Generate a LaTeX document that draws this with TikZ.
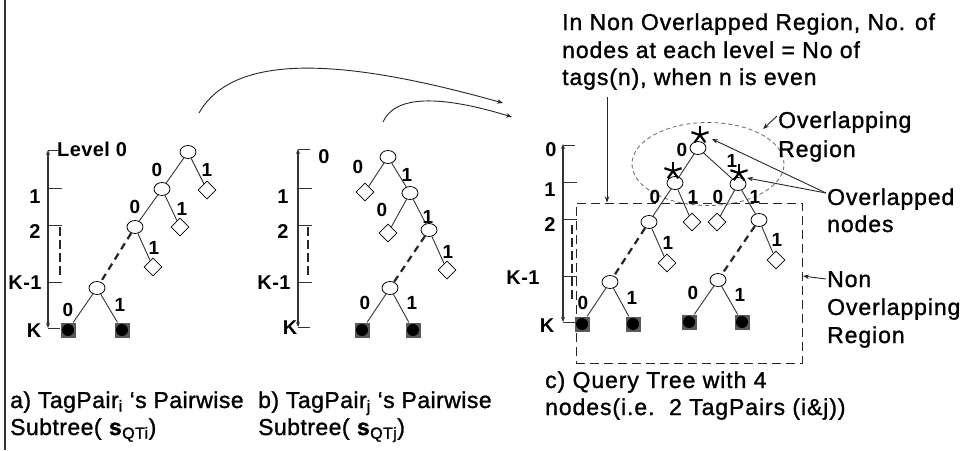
\documentclass[tikz,border=0pt]{standalone}
\usepackage{fontspec}
\setmainfont{Liberation Sans}
\newfontfamily\txtfont[LetterSpace=4,FakeBold=1.2]{Liberation Sans}
\newfontfamily\capfont[LetterSpace=2,FakeBold=1.2]{Liberation Sans}
\newfontfamily\lblfont[LetterSpace=2]{Liberation Sans}
\usetikzlibrary{shapes.geometric,arrows.meta}
\newcommand\myastk[1]{\foreach \ang in {90,162,234,306,18} \draw[line width=2.2pt,black] (#1) -- ++(\ang:9pt);}
\begin{document}
\begin{tikzpicture}[x=1pt,y=-1pt,
  inner/.style={ellipse, draw=black, fill=white, minimum width=16pt, minimum height=13pt, inner sep=0pt, line width=0.8pt},
  dia/.style={diamond, draw=black, fill=white, minimum width=18pt, minimum height=18pt, inner sep=0pt, line width=0.8pt},
  leaf/.style={rectangle, fill=black!65, minimum size=15pt, inner sep=0pt, path picture={\fill[black] (path picture bounding box.center) circle (6pt);}},
  edge/.style={draw=black!80, line width=0.9pt},
  dedge/.style={draw=black!85, line width=2.2pt, dash pattern=on 7pt off 5pt},
  axis/.style={draw=black!80, line width=1.6pt, {Stealth[length=5pt,width=4pt]}-{Stealth[length=5pt,width=4pt]}},
  tickl/.style={draw=black!80, line width=1pt},
  vdash/.style={draw=black!85, line width=2.2pt, dash pattern=on 9pt off 4pt},
  lbl/.style={font=\lblfont\bfseries\fontsize{19}{19}\selectfont, inner sep=0pt},
  axlbl/.style={font=\lblfont\bfseries\fontsize{20}{20}\selectfont, inner sep=0pt},
  txt/.style={font=\txtfont\fontsize{23}{23}\selectfont, inner sep=0pt, anchor=base west},
  captxt/.style={font=\capfont\fontsize{23}{23}\selectfont, inner sep=0pt, anchor=base west},
  arr/.style={draw=black!85, line width=0.9pt, -{Stealth[length=6pt,width=4.5pt]}}
]
\useasboundingbox (0,0) rectangle (969,450);
\fill[white] (0,0) rectangle (969,450);
% left frame line
\coordinate (fT) at (5,0);
\coordinate (fB) at (5,450);
\draw[black!80, line width=1.2pt] (fT) -- (fB);

% ================= Tree a =================
\coordinate (aT) at (48,150);
\coordinate (aB) at (48,328);
\draw[axis] (aT) -- (aB);
\draw[tickl] (48,150) -- ++(10,0);
\draw[tickl] (48,188) -- ++(14,0);
\draw[tickl] (48,225) -- ++(14,0);
\draw[tickl] (48,282) -- ++(14,0);
\draw[tickl] (48,328) -- ++(12,0);
\draw[vdash] (60,227) -- (60,277);
\node[axlbl, anchor=west] (aL0) at (57,149) {Level 0};
\node[axlbl] (aL1) at (35,197) {1};
\node[axlbl] (aL2) at (35,232) {2};
\node[axlbl] (aLk1) at (25,283) {K-1};
\node[axlbl] (aLk) at (34,331) {K};

\node[inner] (a0) at (188,152) {};
\node[inner] (a1) at (162,189) {};
\node[dia] (ad0) at (207,190) {};
\node[inner] (a2) at (135,227) {};
\node[dia] (ad1) at (180,227) {};
\node[dia] (ad2) at (153,267) {};
\node[inner] (ak) at (97,288) {};
\node[leaf] (al0) at (68,330) {};
\node[leaf] (al1) at (122,330) {};
\draw[edge] (a0) -- (a1);
\draw[edge] (a0) -- (ad0);
\draw[edge] (a1) -- (a2);
\draw[edge] (a1) -- (ad1);
\draw[edge] (a2) -- (ad2);
\draw[dedge] (a2) -- (ak);
\draw[edge] (ak) -- (al0);
\draw[edge] (ak) -- (al1);
\node[lbl] (la1) at (157,170) {0};
\node[lbl] (la2) at (207,170) {1};
\node[lbl] (la3) at (135,207) {0};
\node[lbl] (la4) at (182,209) {1};
\node[lbl] (la5) at (154,248) {1};
\node[lbl] (la6) at (68,310) {0};
\node[lbl] (la7) at (120,305) {1};

% ================= Tree b =================
\coordinate (bT) at (298,149);
\coordinate (bB) at (298,327);
\draw[axis] (bT) -- (bB);
\draw[tickl] (298,149) -- ++(12,0);
\draw[tickl] (298,188) -- ++(14,0);
\draw[tickl] (298,225) -- ++(14,0);
\draw[tickl] (298,282) -- ++(14,0);
\draw[tickl] (298,327) -- ++(12,0);
\draw[vdash] (308,227) -- (308,277);
\node[axlbl] (bL0) at (324,157) {0};
\node[axlbl] (bL1) at (283,197) {1};
\node[axlbl] (bL2) at (283,232) {2};
\node[axlbl] (bLk1) at (274,283) {K-1};
\node[axlbl] (bLk) at (290,328) {K};

\node[inner] (b0) at (388,157) {};
\node[dia] (bd0) at (365,192) {};
\node[inner] (b1) at (410,193) {};
\node[dia] (bd1) at (388,233) {};
\node[inner] (b2) at (429,230) {};
\node[dia] (bd2) at (447,270) {};
\node[inner] (bk) at (390,288) {};
\node[leaf] (bl0) at (362,330) {};
\node[leaf] (bl1) at (413,330) {};
\draw[edge] (b0) -- (bd0);
\draw[edge] (b0) -- (b1);
\draw[edge] (b1) -- (bd1);
\draw[edge] (b1) -- (b2);
\draw[edge] (b2) -- (bd2);
\draw[dedge] (b2) -- (bk);
\draw[edge] (bk) -- (bl0);
\draw[edge] (bk) -- (bl1);
\node[lbl] (lb1) at (358,167) {0};
\node[lbl] (lb2) at (407,175) {1};
\node[lbl] (lb3) at (382,210) {0};
\node[lbl] (lb4) at (428,217) {1};
\node[lbl] (lb5) at (448,252) {1};
\node[lbl] (lb6) at (365,303) {0};
\node[lbl] (lb7) at (412,303) {1};

% ================= curved arrows =================
\coordinate (cAs) at (199,113);
\coordinate (cAe) at (503,103);
\coordinate (cBs) at (383,122);
\coordinate (cBe) at (512,117);
\draw[arr] (cAs) .. controls (235,50) and (350,60) .. (cAe);
\draw[arr] (cBs) .. controls (395,95) and (440,95) .. (cBe);

% ================= Tree c =================
\coordinate (cT) at (563,144);
\coordinate (cB) at (563,322);
\draw[axis] (cT) -- (cB);
\draw[tickl] (563,145) -- ++(12,0);
\draw[tickl] (563,182) -- ++(14,0);
\draw[tickl] (563,219) -- ++(14,0);
\draw[tickl] (563,276) -- ++(14,0);
\draw[tickl] (563,322) -- ++(12,0);
\draw[vdash] (572,225) -- (572,300);
\node[axlbl] (cL0) at (551,150) {0};
\node[axlbl] (cL1) at (550,190) {1};
\node[axlbl] (cL2) at (550,225) {2};
\node[axlbl] (cLk1) at (523,278) {K-1};
\node[axlbl] (cLk) at (547,326) {K};

% overlapping ellipse and non-overlapping box
\node[ellipse, draw=black!60, line width=0.8pt, dash pattern=on 4pt off 3pt, minimum width=152pt, minimum height=83pt, inner sep=0pt] (ovr) at (708,164) {};
\node[rectangle, draw=black!85, line width=1pt, dash pattern=on 9pt off 5pt, minimum width=226pt, minimum height=160pt, inner sep=0pt] (nov) at (689,283) {};

\node[inner] (c0) at (698,148) {};
\node[inner] (c1) at (675,183) {};
\node[inner] (c2) at (738,184) {};
\node[inner] (c11) at (649,222) {};
\node[dia] (cd1) at (692,222) {};
\node[dia] (cd11) at (667,263) {};
\node[inner] (ck1) at (610,282) {};
\node[leaf] (cl1) at (582,324) {};
\node[leaf] (cl2) at (633,324) {};
\node[dia] (cd2) at (717,222) {};
\node[inner] (c21) at (759,220) {};
\node[dia] (cd21) at (776,260) {};
\node[inner] (ck2) at (718,280) {};
\node[leaf] (cl3) at (689,322) {};
\node[leaf] (cl4) at (742,322) {};
\draw[edge] (c0) -- (c1);
\draw[edge] (c0) -- (c2);
\draw[edge] (c1) -- (c11);
\draw[edge] (c1) -- (cd1);
\draw[edge] (c11) -- (cd11);
\draw[dedge] (c11) -- (ck1);
\draw[edge] (ck1) -- (cl1);
\draw[edge] (ck1) -- (cl2);
\draw[edge] (c2) -- (cd2);
\draw[edge] (c2) -- (c21);
\draw[edge] (c21) -- (cd21);
\draw[dedge] (c21) -- (ck2);
\draw[edge] (ck2) -- (cl3);
\draw[edge] (ck2) -- (cl4);
\node[lbl] (lc1) at (682,150) {0};
\node[lbl] (lc2) at (732,161) {1};
\node[lbl] (lc3) at (655,197) {0};
\node[lbl] (lc4) at (693,197) {1};
\node[lbl] (lc5) at (718,197) {0};
\node[lbl] (lc6) at (755,197) {1};
\node[lbl] (lc7) at (668,243) {1};
\node[lbl] (lc8) at (777,240) {1};
\node[lbl] (lc9) at (583,303) {0};
\node[lbl] (lc10) at (632,298) {1};
\node[lbl] (lc11) at (693,293) {0};
\node[lbl] (lc12) at (740,295) {1};

% stars
\coordinate (st0) at (700,135);
\coordinate (st1) at (673,171);
\coordinate (st2) at (739,173);
\myastk{st0}
\myastk{st1}
\myastk{st2}

% texts
\node[txt] (top1) at (562,30) {In Non Overlapped Region, No. of};
\node[txt] (top2) at (562,58) {nodes at each level = No of};
\node[txt] (top3) at (562,85) {tags(n), when n is even};
\coordinate (tA) at (607,97);
\draw[arr] (tA) -- (tA |- nov.north);

\node[txt] (ovl1) at (778,128) {Overlapping};
\node[txt] (ovl2) at (778,157) {Region};
\coordinate (ovA) at (777,116);
\coordinate (ovB) at (763,129);
\draw[arr] (ovA) -- (ovB);

\node[txt] (ond1) at (827,205) {Overlapped};
\node[txt] (ond2) at (827,232) {nodes};
\coordinate (onA) at (826,193);
\coordinate (st0t) at (712,139);
\coordinate (st2t) at (747,178);
\draw[arr] (onA) -- (st0t);
\draw[arr] (onA) -- (st2t);

\node[txt] (non1) at (827,287) {Non};
\node[txt] (non2) at (827,315) {Overlapping};
\node[txt] (non3) at (827,343) {Region};
\coordinate (noA) at (826,279);
\coordinate (noB) at (803,276);
\draw[arr] (noA) -- (noB);

% captions
\node[captxt] (capa1) at (10,408) {a) TagPair\textsubscript{i} ‘s Pairwise};
\node[captxt] (capa2) at (10,435) {Subtree( \textbf{s}\textsubscript{QTi})};
\node[captxt] (capb1) at (258,408) {b) TagPair\textsubscript{j} ‘s Pairwise};
\node[captxt] (capb2) at (258,435) {Subtree( \textbf{s}\textsubscript{QTj})};
\node[txt] (capc1) at (545,388) {c) Query Tree with 4};
\node[txt] (capc2) at (545,415) {nodes(i.e.\ \ 2 TagPairs (i\&j))};
\end{tikzpicture}
\end{document}
